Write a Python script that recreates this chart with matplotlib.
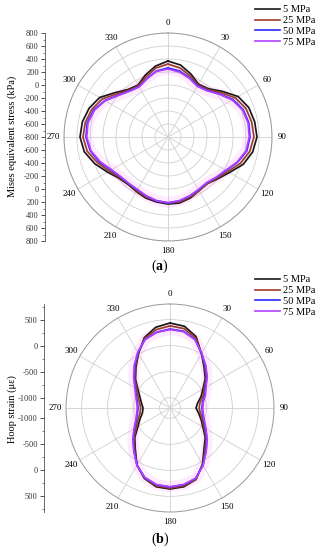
import numpy as np
import matplotlib
matplotlib.use('Agg')
import matplotlib.pyplot as plt
from matplotlib.ticker import FixedLocator, FuncFormatter

plt.rcParams['font.family'] = ['Liberation Serif', 'DejaVu Serif']
plt.rcParams['mathtext.fontset'] = 'custom'
plt.rcParams['mathtext.rm'] = 'Liberation Serif'
plt.rcParams['mathtext.bf'] = 'Liberation Serif:bold'

# angle of measurement (degrees, every 10)
angles = list(range(0, 360, 10))
labels = ['5 MPa', '25 MPa', '50 MPa', '75 MPa']
colors = ['#1a1a1a', '#a03c28', '#2a2aff', '#b040ff']

# (a) Mises equivalent stress, kPa
mises_5 = [369, 323, 231, 138, 169, 292, 446, 523, 554, 569, 523, 431, 292, 200, 138, 154, 200, 231,
           231, 215, 200, 169, 154, 185, 277, 400, 508, 554, 538, 492, 415, 262, 154, 123, 215, 308]
mises_25 = [323, 277, 200, 123, 154, 262, 400, 477, 508, 523, 477, 385, 262, 185, 138, 154, 185, 215,
            215, 200, 185, 154, 138, 169, 246, 354, 462, 508, 492, 446, 369, 231, 138, 108, 185, 277]
mises_50 = [262, 231, 169, 108, 138, 231, 354, 431, 462, 462, 431, 338, 231, 169, 123, 138, 169, 200,
            215, 200, 169, 138, 138, 154, 215, 323, 415, 462, 462, 415, 323, 200, 123, 92, 154, 231]
mises_75 = [246, 215, 160, 100, 130, 225, 340, 420, 450, 450, 420, 330, 225, 165, 120, 135, 165, 195,
            210, 195, 165, 135, 135, 150, 205, 310, 405, 450, 450, 405, 315, 195, 120, 90, 150, 225]

# (b) hoop strain, microstrain
hoop_5 = [435, 396, 262, 11, -181, -315, -469, -565, -662, -700, -642, -565, -469, -315, -181, 50, 262, 338,
          358, 338, 242, 69, -162, -315, -488, -585, -662, -681, -642, -585, -488, -335, -181, 11, 242, 377]
hoop_25 = [380, 350, 235, 11, -160, -295, -440, -525, -615, -640, -605, -535, -440, -295, -150, 60, 255, 320,
           340, 320, 235, 69, -142, -295, -450, -545, -615, -635, -605, -545, -460, -315, -160, 20, 225, 330]
hoop_50 = [319, 300, 204, 11, -142, -277, -412, -488, -565, -585, -565, -508, -412, -277, -123, 69, 242, 300,
           319, 300, 223, 69, -123, -277, -412, -508, -565, -585, -565, -508, -431, -296, -142, 31, 204, 281]
hoop_75 = [310, 290, 200, 20, -130, -265, -400, -475, -550, -570, -550, -495, -400, -265, -115, 75, 240, 295,
           315, 295, 220, 75, -115, -265, -400, -495, -550, -570, -550, -495, -420, -285, -130, 40, 200, 275]


def closed(v):
    return np.append(v, v[0])


theta = np.deg2rad(closed(angles))

fig = plt.figure(figsize=(3.17, 5.5), dpi=100)


def panel(rect, axrect, series, rmin, rmax, rgrid, major_lab, minor_lab, ylabel, ylab_y, tag, tag_y):
    ax = fig.add_axes(rect, projection='polar')
    ax.set_theta_zero_location('N')
    ax.set_theta_direction(-1)
    ax.set_thetagrids(range(0, 360, 30), [str(a) for a in range(0, 360, 30)], fontsize=6.5)
    ax.set_ylim(rmin, rmax)
    ax.set_yticks(rgrid)
    ax.set_yticklabels([])
    ax.grid(color='#d0d0d0', linewidth=0.6)
    ax.spines['polar'].set_color('#999999')
    ax.spines['polar'].set_linewidth(0.7)
    ax.tick_params(axis='x', pad=-3)
    # faint pink halo of the 75 MPa series
    ax.plot(theta, closed(series[3]), color='#ff40ff', lw=8, alpha=0.1, solid_joinstyle='round')
    for s, c in zip(series, colors):
        ax.plot(theta, closed(s), color=c, lw=1.25, solid_joinstyle='round')

    # mirrored radial scale on the left
    span = rmax - rmin
    ay = fig.add_axes(axrect)
    ay.set_ylim(-span, span)
    ay.set_xlim(0, 1)
    for sp in ['top', 'right', 'bottom']:
        ay.spines[sp].set_visible(False)
    ay.spines['left'].set_color('#555555')
    ay.spines['left'].set_linewidth(0.6)
    ay.set_xticks([])
    maj = sorted(set([v - rmin for v in major_lab] + [-(v - rmin) for v in major_lab]))
    mnr = sorted(set([v - rmin for v in minor_lab] + [-(v - rmin) for v in minor_lab]))
    ay.yaxis.set_major_locator(FixedLocator(maj))
    ay.yaxis.set_minor_locator(FixedLocator(mnr))
    ay.yaxis.set_major_formatter(FuncFormatter(lambda y, p: '%d' % (abs(y) + rmin)))
    ay.tick_params(axis='y', which='major', length=3, width=0.6, labelsize=6, pad=1.5, colors='#333333')
    ay.tick_params(axis='y', which='minor', length=1.5, width=0.5, colors='#555555')
    ay.patch.set_alpha(0)
    fig.text(12 / 317, 1 - ylab_y / 550, ylabel, rotation=90, ha='center', va='center', fontsize=7.5)
    fig.text(160 / 317, 1 - tag_y / 550, '(' + r'$\mathbf{' + tag + '}$' + ')',
             ha='center', va='center', fontsize=10)
    return ax


W, H = 317, 550
# panel (a)
panel([64 / W, 1 - 241 / H, 208 / W, 208 / H], [45 / W, 1 - 241 / H, 0.02, 208 / H],
      [mises_5, mises_25, mises_50, mises_75], -800, 800, list(range(-600, 801, 200)),
      list(range(-800, 801, 200)), list(range(-700, 801, 200)),
      'Mises equivalent stress (kPa)', 136, 'a', 266)
# panel (b)
panel([66 / W, 1 - 512 / H, 208 / W, 208 / H], [44 / W, 1 - 512 / H, 0.02, 208 / H],
      [hoop_5, hoop_25, hoop_50, hoop_75], -1200, 800, [-1000, -500, 0, 500],
      [-1000, -500, 0, 500], [-750, -250, 250, 750],
      'Hoop strain (\u03bc\u03b5)', 409, 'b', 539)

for ytop in [3 / H, 273 / H]:
    handles = [plt.Line2D([], [], color=c, lw=1.2) for c in colors]
    fig.legend(handles, labels, loc='upper right', bbox_to_anchor=(1.0, 1 - ytop),
               frameon=False, fontsize=7.5, handlelength=2.4, handletextpad=0.2,
               labelspacing=0.15, borderpad=0.1, borderaxespad=0.1)

fig.savefig('out.png', dpi=100)
